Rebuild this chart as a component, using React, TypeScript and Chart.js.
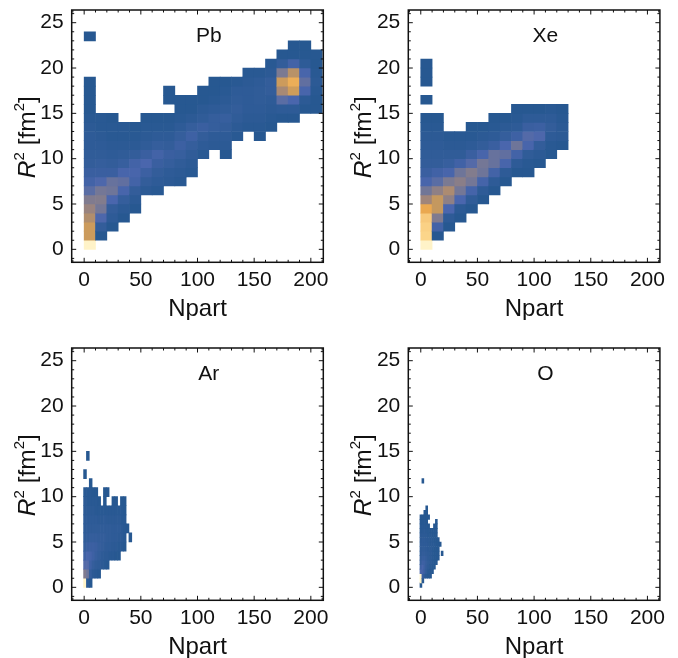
import React, { useEffect, useRef } from "react";
import { Chart, registerables } from "chart.js";

Chart.register(...registerables);

type Strip = [number, number, number[]];

const xTickValues = [0, 50, 100, 150, 200];
const yTickValues = [0, 5, 10, 15, 20, 25];
const xMinorValues = [-10, 0, 10, 20, 30, 40, 50, 60, 70, 80, 90, 100, 110, 120, 130, 140, 150, 160, 170, 180, 190, 200, 210];
const yMinorValues = [-1, 0, 1, 2, 3, 4, 5, 6, 7, 8, 9, 10, 11, 12, 13, 14, 15, 16, 17, 18, 19, 20, 21, 22, 23, 24, 25, 26];
const xAxisTitle = "Npart";
const yAxisTitleParts = ["R", "2", " [fm", "2", "]"];

// [column, first row, densities going up]
const pbColumns: Strip[] = [
  [0, 0, [100, 62, 62, 52, 42, 32, 20, 12, 8, 5, 4, 3, 3, 2, 1, 0, 0, 0, 0]],
  [0, 23, [0]],
  [1, 1, [0, 5, 16, 28, 33, 28, 16, 8, 6, 4, 3, 2, 1, 1]],
  [2, 2, [0, 3, 5, 15, 26, 24, 8, 5, 3, 2, 1, 1, 0]],
  [3, 3, [0, 2, 6, 14, 22, 14, 7, 4, 2, 1, 1]],
  [4, 4, [0, 2, 5, 12, 14, 12, 5, 2, 1, 0]],
  [5, 6, [2, 5, 9, 15, 8, 4, 2, 1, 0]],
  [6, 6, [1, 3, 5, 8, 12, 6, 3, 1, 0]],
  [7, 7, [2, 3, 6, 8, 5, 3, 1, 0]],
  [7, 16, [0, 0]],
  [8, 7, [1, 2, 4, 7, 9, 6, 3, 1, 0, 0]],
  [9, 8, [1, 2, 4, 6, 10, 6, 2, 0, 0]],
  [10, 10, [1, 3, 5, 8, 4, 2, 0, 0]],
  [11, 11, [2, 3, 6, 6, 3, 1, 0, 0]],
  [12, 10, [0, 2, 3, 5, 7, 4, 2, 1, 0]],
  [13, 12, [1, 2, 4, 5, 4, 3, 1]],
  [14, 13, [1, 2, 3, 3, 3, 2, 1]],
  [15, 12, [0, 1, 2, 3, 4, 4, 3, 1]],
  [16, 13, [0, 1, 2, 3, 5, 5, 2, 1]],
  [17, 14, [0, 3, 20, 48, 62, 30, 5, 0]],
  [18, 14, [0, 3, 15, 63, 72, 55, 12, 0, 0]],
  [19, 15, [0, 2, 14, 22, 14, 3, 0, 0]],
  [20, 15, [0, 0, 1, 2, 1, 0, 0]],
];

const xeColumns: Strip[] = [
  [0, 0, [100, 88, 86, 82, 70, 45, 27, 14, 8, 5, 4, 3, 2, 1, 0]],
  [0, 16, [0]],
  [0, 18, [0, 0, 0]],
  [1, 1, [0, 12, 32, 60, 60, 38, 20, 11, 5, 4, 3, 2, 1, 0]],
  [2, 2, [0, 3, 15, 38, 50, 30, 14, 7, 4, 2, 1]],
  [3, 3, [0, 2, 15, 28, 36, 26, 11, 4, 2, 1]],
  [4, 4, [0, 4, 13, 28, 33, 18, 8, 3, 1, 0]],
  [5, 5, [0, 3, 13, 26, 28, 14, 5, 2, 0]],
  [6, 6, [0, 3, 12, 24, 24, 8, 3, 1, 0]],
  [7, 7, [0, 3, 14, 22, 15, 6, 2, 0]],
  [8, 8, [0, 3, 12, 26, 10, 3, 1, 0]],
  [9, 8, [0, 1, 4, 14, 18, 8, 3, 0]],
  [10, 9, [0, 2, 5, 16, 9, 3, 0]],
  [11, 10, [0, 1, 3, 5, 3, 1]],
  [12, 11, [0, 2, 2, 1, 0]],
];

const arColumns: Strip[] = [
  [0, 0, [100, 32, 18, 10, 6, 4, 3, 3, 2, 2, 1]],
  [0, 12, [0]],
  [1, 0, [2, 26, 18, 14, 8, 5, 4, 3, 2, 1, 1]],
  [1, 14, [0]],
  [2, 0, [0, 6, 10, 13, 9, 6, 4, 3, 2, 1, 1, 0]],
  [3, 1, [2, 6, 10, 9, 6, 4, 3, 2, 1, 0]],
  [4, 1, [1, 4, 7, 8, 6, 4, 3, 1, 1, 0]],
  [5, 1, [0, 3, 5, 6, 5, 4, 2, 1, 0]],
  [6, 2, [2, 3, 5, 5, 4, 2, 1]],
  [7, 2, [1, 2, 4, 5, 4, 3, 1, 0, 0]],
  [8, 2, [0, 2, 3, 4, 4, 2, 1]],
  [8, 10, [0]],
  [9, 3, [1, 3, 4, 4, 2, 1]],
  [10, 3, [1, 2, 3, 3, 2, 1, 0]],
  [11, 3, [0, 2, 3, 3, 2, 1, 0]],
  [12, 3, [0, 1, 2, 3, 2, 1]],
  [13, 4, [1, 2, 2, 1, 1, 0]],
  [14, 4, [0, 1, 1, 1, 0, 0]],
  [15, 6, [0]],
  [16, 5, [0]],
];

const oColumns: Strip[] = [
  [0, 0, [0, 100, 100, 16, 10, 6, 5, 3, 3, 3, 2, 2, 1, 1, 0, 0]],
  [1, 1, [1, 8, 13, 14, 10, 7, 5, 4, 3, 3, 2, 1, 1, 0, 0]],
  [2, 2, [3, 8, 9, 9, 7, 5, 4, 3, 3, 2, 2, 1, 1, 0, 0]],
  [3, 2, [1, 4, 5, 6, 5, 4, 3, 3, 2, 2, 1, 1, 0, 0, 0, 0]],
  [4, 2, [0, 1, 3, 4, 3, 3, 2, 2, 2, 1, 1, 0]],
  [4, 15, [0]],
  [5, 2, [0, 0, 1, 2, 2, 2, 2, 1, 1, 1, 0]],
  [6, 3, [0, 0, 1, 1, 1, 1, 1, 1, 0, 0]],
  [7, 4, [0, 0, 0, 0, 0, 1, 0, 0, 0, 0]],
  [8, 5, [0, 0, 0, 0, 0, 0, 0, 0, 0, 0]],
  [9, 6, [0, 0, 0, 0, 0]],
  [10, 9, [0]],
  [11, 7, [0]],
  [1, 23, [0]],
];

const densityStops = [0, 15, 30, 45, 60, 70, 80, 90, 100];
const densityColors = [
  [39, 88, 145],
  [74, 102, 173],
  [123, 122, 146],
  [160, 133, 122],
  [196, 152, 95],
  [234, 168, 80],
  [246, 197, 119],
  [252, 217, 143],
  [255, 243, 200],
];

function densityColor(v: number): string {
  let i = 0;
  while (i < densityStops.length - 2 && v > densityStops[i + 1]) i++;
  const t = (v - densityStops[i]) / (densityStops[i + 1] - densityStops[i]);
  const c = densityColors[i].map((a, k) => Math.round(a + (densityColors[i + 1][k] - a) * t));
  return `rgb(${c[0]},${c[1]},${c[2]})`;
}

type PanelDef = {
  name: string;
  columns: Strip[];
  binX: number;
  binY: number;
  startX: number;
  left: number;
  top: number;
  width: number;
  height: number;
  frameLeft: number;
  frameRight: number;
  frameTop: number;
  frameBottom: number;
};

const panels: PanelDef[] = [
  { name: "Pb", columns: pbColumns, binX: 10, binY: 1, startX: 0, left: 0, top: 0, width: 336, height: 320, frameLeft: 71.7, frameRight: 323.3, frameTop: 10, frameBottom: 262.3 },
  { name: "Xe", columns: xeColumns, binX: 10, binY: 1, startX: 0, left: 336, top: 0, width: 342, height: 320, frameLeft: 72.3, frameRight: 323.9, frameTop: 10, frameBottom: 262.3 },
  { name: "Ar", columns: arColumns, binX: 2.5, binY: 1, startX: -0.5, left: 0, top: 338, width: 336, height: 320, frameLeft: 71.7, frameRight: 323.3, frameTop: 10, frameBottom: 262.3 },
  { name: "O", columns: oColumns, binX: 1.7, binY: 0.5, startX: -0.7, left: 336, top: 338, width: 342, height: 320, frameLeft: 72.3, frameRight: 323.9, frameTop: 10, frameBottom: 262.3 },
];

const xMin = -11;
const xMax = 211;
const yMin = -1.43;
const yMax = 26.4;
const labelX = 110;
const labelY = 23.55;
const fontFamily = "'Liberation Sans', Arial, sans-serif";

const framePlugin = {
  id: "frameAndText",
  afterDraw(chart: any, _a: any, opts: any) {
    const { ctx, chartArea: a, scales } = chart;
    const { x, y } = scales;
    ctx.save();
    ctx.strokeStyle = "#111";
    ctx.lineWidth = 1.5;
    ctx.strokeRect(a.left, a.top, a.right - a.left, a.bottom - a.top);
    ctx.lineWidth = 1;
    ctx.beginPath();
    for (const v of xMinorValues) {
      const p = x.getPixelForValue(v);
      const l = v % 50 === 0 ? 4.5 : 2.5;
      ctx.moveTo(p, a.bottom);
      ctx.lineTo(p, a.bottom - l);
      ctx.moveTo(p, a.top);
      ctx.lineTo(p, a.top + l);
    }
    for (const v of yMinorValues) {
      const p = y.getPixelForValue(v);
      const l = v % 5 === 0 ? 4.5 : 2.5;
      ctx.moveTo(a.left, p);
      ctx.lineTo(a.left + l, p);
      ctx.moveTo(a.right, p);
      ctx.lineTo(a.right - l, p);
    }
    ctx.stroke();

    ctx.fillStyle = "#111";
    ctx.font = `21px ${fontFamily}`;
    ctx.textAlign = "center";
    ctx.textBaseline = "middle";
    ctx.fillText(opts.name, x.getPixelForValue(labelX), y.getPixelForValue(labelY));

    // y axis title: italic R, upright remainder, small superscripts
    const big = 24.5;
    const small = 15;
    const fonts = [`italic ${big}px ${fontFamily}`, `${small}px ${fontFamily}`, `${big}px ${fontFamily}`, `${small}px ${fontFamily}`, `${big}px ${fontFamily}`];
    const widths = yAxisTitleParts.map((t, i) => {
      ctx.font = fonts[i];
      return ctx.measureText(t).width;
    });
    const total = widths.reduce((s, w) => s + w, 0);
    ctx.translate(35, (a.top + a.bottom) / 2 + 1);
    ctx.rotate(-Math.PI / 2);
    ctx.textAlign = "left";
    ctx.textBaseline = "alphabetic";
    let cx = -total / 2;
    yAxisTitleParts.forEach((t, i) => {
      ctx.font = fonts[i];
      ctx.fillText(t, cx, i === 1 || i === 3 ? -11 : 0);
      cx += widths[i];
    });
    ctx.restore();
  },
};

function HeatPanel({ def }: { def: PanelDef }) {
  const ref = useRef<HTMLCanvasElement>(null);
  useEffect(() => {
    const cells: { x: number; y: [number, number]; v: number }[] = [];
    for (const [col, start, values] of def.columns) {
      values.forEach((v, i) => {
        const lo = (start + i) * def.binY;
        cells.push({ x: def.startX + (col + 0.5) * def.binX, y: [lo, lo + def.binY], v });
      });
    }
    const plotW = def.frameRight - def.frameLeft;
    const chart = new Chart(ref.current!, {
      type: "bar",
      data: {
        datasets: [
          {
            label: def.name,
            data: cells as any,
            backgroundColor: cells.map((c) => densityColor(c.v)),
            borderWidth: 0,
            grouped: false,
            barThickness: (def.binX * plotW) / (xMax - xMin),
          } as any,
        ],
      },
      options: {
        responsive: false,
        animation: false,
        events: [],
        layout: {
          padding: { left: 0, top: def.frameTop, right: def.width - def.frameRight, bottom: 0 },
        },
        plugins: {
          legend: { display: false },
          tooltip: { enabled: false },
          title: { display: false },
          frameAndText: { name: def.name },
        } as any,
        scales: {
          x: {
            type: "linear",
            min: xMin,
            max: xMax,
            offset: false,
            grid: { display: false, drawTicks: false },
            border: { display: false },
            title: { display: true, text: xAxisTitle, font: { family: fontFamily, size: 24 }, color: "#111", padding: { top: 9, bottom: -4 } },
            ticks: { autoSkip: false, maxRotation: 0, padding: 5, color: "#111", font: { family: fontFamily, size: 21 } },
            afterBuildTicks: (s: any) => {
              s.ticks = xTickValues.map((value) => ({ value }));
            },
            afterFit: (s: any) => {
              s.height = def.height - def.frameBottom;
              s.paddingLeft = 0;
              s.paddingRight = 0;
            },
          },
          y: {
            type: "linear",
            min: yMin,
            max: yMax,
            grid: { display: false, drawTicks: false },
            border: { display: false },
            ticks: { padding: 8, color: "#111", font: { family: fontFamily, size: 21 } },
            afterBuildTicks: (s: any) => {
              s.ticks = yTickValues.map((value) => ({ value }));
            },
            afterFit: (s: any) => {
              s.width = def.frameLeft;
              s.paddingTop = 0;
              s.paddingBottom = 0;
            },
          },
        },
      } as any,
      plugins: [framePlugin],
    });
    return () => chart.destroy();
  }, [def]);
  return (
    <canvas
      ref={ref}
      width={def.width}
      height={def.height}
      style={{ position: "absolute", left: def.left, top: def.top, width: def.width, height: def.height, display: "block" }}
    />
  );
}

export default function App() {
  return (
    <div style={{ position: "absolute", left: 0, top: 0, width: 678, height: 658, background: "#fff", overflow: "hidden" }}>
      {panels.map((p) => (
        <HeatPanel key={p.name} def={p} />
      ))}
    </div>
  );
}
